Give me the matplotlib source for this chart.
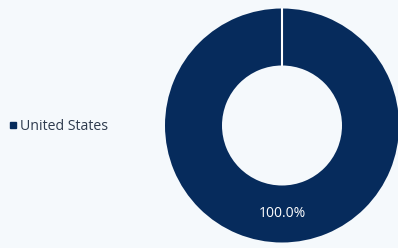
import matplotlib.pyplot as plt
from matplotlib.lines import Line2D

plt.rcParams['font.family'] = ['Open Sans', 'DejaVu Sans']

countries = ["United States"]
shares = [100.0]
colors = ["#062b5c"]

bg = "#f5f9fc"
text_col = "#2e3b4e"

fig = plt.figure(figsize=(3.98, 2.48), dpi=100, facecolor=bg)
ax = fig.add_axes([0, 0, 1, 1])
ax.set_facecolor(bg)

wedges, texts, autotexts = ax.pie(
    shares, colors=colors, center=(282, 122.5), radius=117,
    startangle=90, counterclock=False,
    autopct='%.1f%%', pctdistance=0.756,
    wedgeprops=dict(width=57, edgecolor='none'),
    textprops=dict(color='white', fontsize=10),
    frame=True,
)
# white slice border at the start angle
w = wedges[0]
cx, cy = w.center
ax.plot([cx, cx], [cy + w.r - w.width, cy + w.r + 1], color='white', lw=1.5,
        solid_capstyle='butt')

ax.set_xlim(0, 398)
ax.set_ylim(0, 248)
ax.set_aspect('equal')
ax.axis('off')

handles = [Line2D([], [], marker='s', linestyle='', markersize=5,
                  markerfacecolor=c, markeredgecolor=c) for c in colors]
leg = fig.legend(handles, countries, loc='center left', bbox_to_anchor=(-0.007, 0.49),
                 frameon=False, fontsize=10.2, handlelength=0.4, handletextpad=0.3,
                 labelcolor=text_col)

fig.savefig("out.png", dpi=100, facecolor=bg)
